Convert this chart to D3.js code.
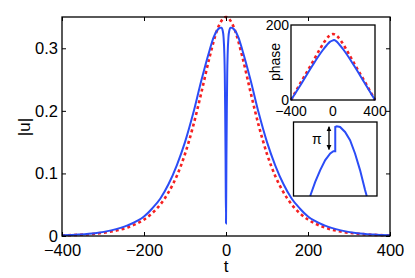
<!DOCTYPE html>
<html>
<head>
<meta charset="utf-8">
<script src="https://d3js.org/d3.v7.min.js"></script>
<style>
  body { margin: 0; background: #fff; }
  text { font-family: "Liberation Sans", Arial, sans-serif; fill: #000; }
</style>
</head>
<body>
<div id="chart"></div>
<script>
// main panel: |u| against t
var tBlue = [-400, -360, -320, -280, -240, -200, -180, -160, -140, -120, -100, -80, -60, -40, -30, -20, -14, -11, -8, -6, -4, -3, -2, -1, 0,
             1, 2, 3, 4, 6, 8, 11, 14, 20, 30, 40, 60, 80, 100, 120, 140, 160, 180, 200, 240, 280, 320, 360, 400];
var uBlue = [0.001, 0.0023, 0.0045, 0.009, 0.017, 0.031, 0.044, 0.060, 0.083, 0.113, 0.150, 0.196, 0.249, 0.297, 0.318, 0.330, 0.333, 0.333, 0.328, 0.318, 0.29, 0.26, 0.2, 0.12, 0.02,
             0.12, 0.2, 0.26, 0.29, 0.318, 0.328, 0.333, 0.333, 0.330, 0.318, 0.297, 0.249, 0.196, 0.150, 0.113, 0.083, 0.060, 0.044, 0.031, 0.017, 0.009, 0.0045, 0.0023, 0.001];

var tRed = [-400, -360, -320, -280, -240, -200, -180, -160, -140, -120, -100, -80, -60, -40, -20, 0, 20, 40, 60, 80, 100, 120, 140, 160, 180, 200, 240, 280, 320, 360, 400];
var uRed = [0.001, 0.0019, 0.0037, 0.0071, 0.0137, 0.0263, 0.0364, 0.0505, 0.070, 0.096, 0.131, 0.176, 0.2295, 0.286, 0.332, 0.35,
            0.332, 0.286, 0.2295, 0.176, 0.131, 0.096, 0.070, 0.0505, 0.0364, 0.0263, 0.0137, 0.0071, 0.0037, 0.0019, 0.001];

var xTicks = [-400, -200, 0, 200, 400];
var yTicks = [0, 0.1, 0.2, 0.3];

// inset 1: phase
var tPhBlue = [-400, -300, -200, -100, -60, -30, 0, 10, 30, 60, 100, 200, 300, 400];
var phBlue = [0, 44, 90, 132, 146, 155, 159, 160, 157, 148, 134, 92, 46, 0];
var tPhRed = [-400, -300, -200, -120, -80, -40, 0, 40, 80, 120, 200, 300, 400];
var phRed = [0, 50, 98, 138, 156, 170, 176, 170, 156, 138, 98, 50, 0];
var phXTicks = [-400, 0, 400];
var phYTicks = [0, 200];

// inset 2: close-up of the phase jump (arbitrary units)
var zx = [-0.60, -0.48, -0.36, -0.24, -0.12, -0.044, 0, 0, 0.037, 0.116, 0.235, 0.355, 0.474, 0.594, 0.714, 0.754];
var zy = [0, 0.19, 0.35, 0.485, 0.575, 0.606, 0.606, 0.933, 0.942, 0.933, 0.865, 0.754, 0.575, 0.35, 0.081, 0];

var blue = "#2b4cf6", red = "#f52020";

var svg = d3.select("#chart").append("svg")
    .attr("width", 415).attr("height", 278);

svg.append("defs").append("marker")
    .attr("id", "head").attr("viewBox", "0 0 10 10")
    .attr("refX", 9).attr("refY", 5)
    .attr("markerWidth", 4).attr("markerHeight", 4)
    .attr("orient", "auto-start-reverse")
  .append("path").attr("d", "M0,0L10,5L0,10z").attr("fill", "#000");

// main axes
var x = d3.scaleLinear().domain([-400, 400]).range([62, 390]);
var y = d3.scaleLinear().domain([0, 0.35]).range([236, 17]);

var lineMain = d3.line().x(function(d){ return x(d[0]) }).y(function(d){ return y(d[1]) });

svg.append("path")
    .datum(d3.zip(tRed, uRed))
    .attr("d", lineMain.curve(d3.curveMonotoneX))
    .attr("fill", "none").attr("stroke", red)
    .attr("stroke-width", 2.6).attr("stroke-dasharray", "3,3");

svg.append("path")
    .datum(d3.zip(tBlue, uBlue))
    .attr("d", lineMain.curve(d3.curveMonotoneX))
    .attr("fill", "none").attr("stroke", blue).attr("stroke-width", 2);

function frame(g, sx, sy) {
  g.append("rect")
    .attr("x", sx.range()[0]).attr("y", sy.range()[1])
    .attr("width", sx.range()[1] - sx.range()[0])
    .attr("height", sy.range()[0] - sy.range()[1])
    .attr("fill", "none").attr("stroke", "#000").attr("stroke-width", 1.3);
}

// ticks point inwards, mirrored on top and right like matlab
var gx = svg.append("g").attr("transform", "translate(0,236)")
    .call(d3.axisBottom(x).tickValues(xTicks).tickSize(-4).tickPadding(8)
      .tickFormat(function(d){ return d < 0 ? "\u2212" + (-d) : d }));
svg.append("g").attr("transform", "translate(0,17)")
    .call(d3.axisTop(x).tickValues(xTicks).tickSize(-4).tickFormat(""));
var gy = svg.append("g").attr("transform", "translate(62,0)")
    .call(d3.axisLeft(y).tickValues(yTicks).tickSize(-4).tickPadding(4)
      .tickFormat(function(d){ return d === 0 ? "0" : d3.format(".1f")(d) }));
svg.append("g").attr("transform", "translate(390,0)")
    .call(d3.axisRight(y).tickValues(yTicks).tickSize(-4).tickFormat(""));

svg.selectAll(".domain").remove();
svg.selectAll(".tick line").attr("stroke", "#000").attr("stroke-width", 1);
gx.selectAll("text").attr("font-size", 16.5).attr("font-family", "Liberation Sans, Arial, sans-serif").attr("fill", "#000");
gy.selectAll("text").attr("font-size", 16.5).attr("font-family", "Liberation Sans, Arial, sans-serif").attr("fill", "#000");

frame(svg, x, y);

svg.append("text").attr("x", 226).attr("y", 272)
    .attr("text-anchor", "middle").attr("font-size", 17).text("t");
svg.append("text").attr("transform", "translate(30,127) rotate(-90)")
    .attr("text-anchor", "middle").attr("font-size", 17).text("|u|");

// inset 1
var px = d3.scaleLinear().domain([-400, 400]).range([291, 375]);
var py = d3.scaleLinear().domain([0, 200]).range([100, 25]);
var ins1 = svg.append("g");
ins1.append("rect").attr("x", 291).attr("y", 25).attr("width", 84).attr("height", 75).attr("fill", "#fff");
var linePh = d3.line().x(function(d){ return px(d[0]) }).y(function(d){ return py(d[1]) }).curve(d3.curveMonotoneX);
ins1.append("path").datum(d3.zip(tPhRed, phRed)).attr("d", linePh)
    .attr("fill", "none").attr("stroke", red).attr("stroke-width", 2.6).attr("stroke-dasharray", "3,3");
ins1.append("path").datum(d3.zip(tPhBlue, phBlue)).attr("d", linePh)
    .attr("fill", "none").attr("stroke", blue).attr("stroke-width", 2);
frame(ins1, px, py);
ins1.selectAll(null).data(phXTicks).enter().append("text")
    .attr("x", function(d){ return px(d) }).attr("y", 116)
    .attr("text-anchor", "middle").attr("font-size", 14)
    .text(function(d){ return d < 0 ? "\u2212" + (-d) : d });
ins1.selectAll(null).data(phYTicks).enter().append("text")
    .attr("x", 289).attr("y", function(d){ return py(d) + 5 })
    .attr("text-anchor", "end").attr("font-size", 14)
    .text(function(d){ return d });
ins1.append("text").attr("transform", "translate(280,62) rotate(-90)")
    .attr("text-anchor", "middle").attr("font-size", 14).text("phase");

// inset 2
var zxs = d3.scaleLinear().domain([-1, 1]).range([293.5, 377]);
var zys = d3.scaleLinear().domain([0, 1]).range([196, 122]);
var ins2 = svg.append("g");
ins2.append("rect").attr("x", 293.5).attr("y", 122).attr("width", 83.5).attr("height", 74).attr("fill", "#fff");
ins2.append("path").datum(d3.zip(zx, zy))
    .attr("d", d3.line().x(function(d){ return zxs(d[0]) }).y(function(d){ return zys(d[1]) }).curve(d3.curveLinear))
    .attr("fill", "none").attr("stroke", blue).attr("stroke-width", 2);
frame(ins2, zxs, zys);
ins2.append("line")
    .attr("x1", zxs(-0.15)).attr("x2", zxs(-0.15))
    .attr("y1", zys(0.935)).attr("y2", zys(0.63))
    .attr("stroke", "#000").attr("stroke-width", 1.3)
    .attr("marker-start", "url(#head)").attr("marker-end", "url(#head)");
ins2.append("text").attr("x", zxs(-0.44)).attr("y", zys(0.7))
    .attr("text-anchor", "middle").attr("font-size", 14).text("\u03c0");
</script>
</body>
</html>
